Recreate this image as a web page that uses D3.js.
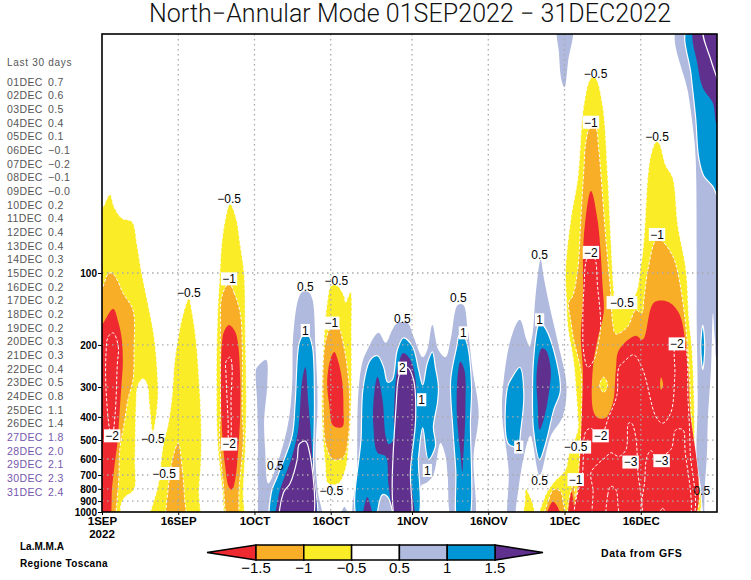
<!DOCTYPE html>
<html>
<head>
<meta charset="utf-8">
<style>
  html, body { margin: 0; padding: 0; background: #fff; }
  svg { display: block; }
  text { font-family: "Liberation Sans", sans-serif; }
</style>
</head>
<body>
<div id="chart"></div>
<script src="https://cdn.jsdelivr.net/npm/d3@7"></script>
<script>
// contour outlines: [days since 1 Sep, hPa]
const yellowAreas = [
  [[-1,63],[0.4,52],[1.6,47],[2.4,53],[3.9,59],[5.9,61],[6.9,76],[7.7,97],[8.5,118],[9.1,136],[10.2,181],[10.8,243],[11,339],[10,466],[9.3,355],[8.9,294],[8.1,277],[7.1,294],[6.7,373],[6.5,604],[6.3,806],[4.5,868],[3.7,940],[3.5,1130],[-1,1130]],
  [[17.1,128],[17.7,145],[18.5,190],[19.1,280],[19.5,411],[19.5,604],[19.1,806],[18.7,1130],[9.1,1130],[9.9,940],[11,780],[12,530],[13,430],[13.8,323],[14.2,243],[14.8,196],[15.9,150]],
  [[25.2,51.5],[26.4,59],[27.2,76],[28,102],[28.2,173],[28.4,339],[28.2,548],[27.8,806],[27.6,1130],[24.8,1130],[23.6,780],[22.7,498],[22.5,280],[22.7,157],[23.1,107],[23.8,68]],
  [[45.1,113],[46.3,113],[47.7,126],[47.9,133],[48.9,120],[49.1,186],[49.1,299],[48.9,411],[48.5,530],[47.9,665],[46.5,760],[44.5,760],[43.9,620],[43.3,411],[43.3,280],[43.7,186],[44.3,133]],
  [[83,1130],[83.2,900],[83.4,800],[84.2,860],[85,965],[85.2,1130]],
  [[86.3,1130],[86.9,888],[88.7,760],[91.2,665],[91.8,580],[93.6,453],[93.6,395],[93.2,299],[92.8,237],[91.6,165],[91.4,133],[91.2,97],[92.2,60],[93.6,40],[94.8,19.8],[96.2,15.3],[97.1,15.3],[98.5,19.8],[99.5,39],[100.1,70.7],[100.7,118],[101.1,133],[104.6,126],[106,93],[106.6,72.7],[107.4,39],[108,32],[109,28.3],[109.6,28.6],[110.9,35.4],[112.3,40],[113.3,63],[114.9,97],[115.5,157],[116.1,210],[116.5,339],[116.6,548],[116.6,1130]]
]
const orangeAreas = [
  [[-1,129],[0.2,114],[1.2,101],[2,100],[3,107],[4.1,121],[6.1,143],[6.3,210],[6.1,280],[5.1,339],[4.5,411],[3.5,548],[3.2,780],[1.8,1130],[-1,1130]],
  [[15,515],[15.8,665],[16.2,850],[16.2,1130],[13,1130],[13,806],[14,585]],
  [[25,110],[26,121],[27.2,147],[27.6,203],[27.6,385],[27.8,498],[27,780],[26.4,1130],[25,1130],[23.8,732],[23.1,485],[23.3,385],[23.3,173],[23.6,125]],
  [[45.1,168],[46.5,168],[47.3,190],[48.1,235],[48.7,320],[48.5,480],[47.5,590],[45.5,604],[44.1,530],[43.5,345],[43.7,210],[44.3,182]],
  [[86.9,1130],[87.9,888],[88.9,806],[90.2,820],[90.8,930],[91.4,1130]],
  [[115.9,1130],[115.9,400],[115.3,216],[114.5,143],[113.3,100],[112.3,85],[110,73],[109,73],[107.4,97],[106.6,130],[106.2,147],[105,143],[103.4,168],[101.1,180],[100.5,163],[100.1,122],[99.1,70.7],[98.1,37],[97.7,30],[97.1,24.7],[96,24.7],[95.2,28.4],[94.8,37],[94.2,60],[93.6,97],[92.6,125],[91.8,133],[92.2,157],[92.8,190],[94.2,254],[94.4,299],[94.2,470],[93.6,760],[93.2,888],[92.8,760],[92.2,1130]]
]
const yellowIslands = [
  [[98.7,273],[99.5,294],[98.7,316],[97.9,294]]
]
const redAreas = [
  [[-1,180],[0.4,160],[2.2,141],[3.2,160],[3.9,190],[4.1,238],[3.9,280],[3.5,373],[3,520],[2.6,604],[2,780],[1.2,1130],[-1,1130]],
  [[25,165],[26.2,176],[26.8,200],[27.2,280],[27.2,392],[26.8,548],[26.2,732],[25.6,806],[25,790],[24.2,635],[23.6,453],[23.4,308],[23.6,196],[24,176]],
  [[45.7,214],[46.5,235],[47.3,288],[47.5,373],[47.3,440],[45.5,436],[44.7,355],[44.3,288],[44.9,231]],
  [[87.3,1130],[88.7,906],[89.9,978],[90.2,1130]],
  [[91.8,1130],[92.4,820],[92.8,1130]],
  [[96.2,45.4],[97.5,60],[98.5,114],[98.7,147],[97.5,190],[96.6,247],[96.6,373],[97.5,403],[99.1,403],[100.5,350],[101.1,254],[101.7,210],[105,183],[106.4,190],[108.6,133],[111.3,132],[113.5,147],[114.9,204],[115.5,339],[115.7,1130],[93.2,1130],[93.8,760],[94.4,400],[94.6,254],[94.2,186],[94.6,133],[94.8,70.7]]
]
const orangeIslands = [
  [[110,273],[110.4,294],[110,308],[109.8,294]]
]
// dashed -2 and -3 lines inside the red
const minusLines = [
  [[2.2,178],[3.2,203],[3,243],[2.6,385],[2,480],[1.6,462],[0.8,308],[0.8,215],[1.2,185]],
  [[25.2,225],[25.6,248],[25.4,323],[25.2,522],[25,522],[24.8,411],[24.4,266],[24.4,235]],
  [[95.6,86],[96.8,86],[97.5,114],[98.1,167],[97.5,203],[96.8,231],[95.6,248],[94.8,218],[94.6,167],[94.8,118]],
  [[93.6,1130],[94.6,665],[95.2,460],[96.2,447],[98.1,480],[99.7,400],[101.3,325],[101.7,248],[102.7,235],[104.6,220],[106.4,254],[109,400],[110.3,425],[111.9,385],[112.7,268],[112.9,200],[114.5,200],[115.3,339],[115.7,548],[115.5,1130]],
  [[97.1,1130],[96.6,806],[96.2,685],[97.5,630],[99.1,590],[100.1,565],[101.7,585],[103.1,548],[103.6,425],[104.2,425],[105,485],[105.4,665],[105.6,1130]],
  [[106.6,1130],[106.8,732],[107.2,590],[108,553],[109,590],[111.9,548],[112.9,453],[114.3,453],[114.7,548],[115.1,1130]],
  [[99.5,1130],[99.5,850],[100.1,780],[101.1,806],[101.5,930],[101.5,1130]],
  [[109.2,1130],[110.3,965],[111.5,1130]]
]
const lavenderAreas = [
  [[31.7,1130],[30.7,780],[30.7,498],[30.5,339],[30.3,254],[30.7,245],[32.3,231],[32.5,294],[31.9,411],[32.1,548],[32.7,760],[33.7,700],[36.5,440],[37.4,299],[37.6,186],[38.6,129],[39.4,120],[40.6,120],[41.4,129],[42,203],[42.4,349],[42,585],[42.4,806],[43,1130]],
  [[46.7,1130],[47.7,950],[48.7,1130]],
  [[50,1130],[50.2,665],[50.4,328],[51.2,238],[52.2,210],[54.4,178],[55.8,196],[57.1,173],[58.1,162],[60.1,162],[61.3,185],[63.1,225],[64,210],[65,165],[66.2,210],[67.6,225],[68.6,190],[70,136],[71.1,136],[71.9,168],[72.9,254],[74.1,385],[73.1,585],[72.9,1130],[69.2,1130],[68,700],[67.6,585],[66.6,515],[65.2,700],[64,750],[62.7,780],[61.9,1130]],
  [[80,1130],[80,665],[78.8,411],[78.8,318],[80.4,190],[82.2,157],[83.5,190],[84.1,203],[84.7,181],[85.3,125],[86.3,88],[86.9,104],[87.9,133],[89.7,196],[91.4,299],[90.6,400],[88.3,480],[86.1,700],[84.3,480],[83,585],[81.4,978],[81,1130]],
  [[89.7,9.6],[92.6,9.6],[92.6,10.4],[91.8,12.6],[91,16.7],[90.4,15.6],[89.9,11.9]],
  [[113.1,9.6],[115.3,17.5],[116.3,25],[116.8,33],[117,112],[117,157],[117.2,349],[117,585],[117.8,780],[118.4,1050],[118.6,780],[119,585],[119.2,411],[119.8,254],[120,190],[120.2,147],[120.6,190],[121,231],[122.5,203],[122.5,9.6]]
]
const blueAreas = [
  [[39.6,182],[40.6,182],[41.4,203],[41.8,349],[41.6,665],[41.8,1130],[33.5,1130],[33.3,830],[34.5,710],[37.4,480],[38,349],[38.8,196]],
  [[50.8,1130],[51,480],[51.4,299],[52.8,231],[54.2,222],[55.4,247],[56.2,286],[57.1,280],[58.1,210],[59.3,187],[61.1,203],[62.3,254],[63.1,294],[64,238],[65,214],[65.6,248],[66.2,299],[66,349],[65.2,440],[65.6,530],[64.2,604],[63.1,445],[62.3,585],[61.5,1130]],
  [[70.3,182],[71.1,182],[71.9,200],[72.7,299],[72.5,411],[71.9,1130],[70.1,1130],[69.6,665],[69,440],[68.6,280],[69.8,203]],
  [[82.2,248],[83,320],[82.4,453],[81.8,530],[80,520],[79.8,299],[80.8,271]],
  [[86.1,160],[87.7,178],[90.2,308],[88.9,373],[87.3,515],[86.1,604],[84.9,453],[84.7,308],[84.9,231],[85.7,168]],
  [[118.2,165],[118.6,203],[118.2,254],[117.8,203]],
  [[115.1,9.6],[115.9,14.8],[116.8,22.4],[117.4,33],[118.4,39.3],[120.2,43.5],[121,47.3],[122.5,52],[122.5,9.6]]
]
const purpleAreas = [
  [[40,248],[40.6,349],[41.4,604],[41.4,1130],[34.5,1130],[34.7,865],[37.4,585],[38.6,453],[39.4,280]],
  [[54.2,272],[55.2,339],[55.8,480],[56.4,520],[57.4,498],[57.4,411],[58.1,254],[59.3,216],[60.7,231],[61.7,280],[61.7,385],[60.7,665],[61.1,1130],[58.1,1130],[56.4,780],[55.8,585],[54.2,565],[53.4,440],[53.4,349]],
  [[51.4,1130],[52.2,865],[53.2,1130]],
  [[70.5,235],[71.3,254],[71.5,373],[71.1,585],[70.9,680],[70.5,565],[69.8,385],[70,266]],
  [[86.5,207],[87.3,210],[88.3,254],[87.9,320],[86.9,411],[86.1,453],[85.7,349],[85.5,266]],
  [[116.5,9.6],[117.2,13.5],[118.2,16.8],[120.2,19.5],[121,24],[122.5,25.2],[122.5,9.6]]
]
const lavenderHoles = [
  [[54.4,1130],[55.2,846],[56.2,865],[57.1,1130]]
]
// solid +2 lines
const plusLines = [
  [[35.3,1130],[35.7,830],[37,760],[38.4,604],[38.8,520],[40,505],[40.6,535],[41,1130]],
  [[58.1,1130],[57.9,349],[58.7,260],[60.1,248],[61.3,280],[61.7,411],[60.7,665],[60.5,1130]],
  [[118.4,9.6],[119.8,12.85],[121,15.3],[122.5,18.9],[122.5,9.6]]
]

// contour labels: text, day, hPa, white box or not
const contourLabels = [
  ['−0.5',25,49,0],['−0.5',17.1,121,0],['−1',25,105.8,1],['−2',2,480,1],['−0.5',10,493,0],['−0.5',12.2,690,1],
  ['−2',25,520,1],['0.5',40,114,0],['1',40,174,1],['−0.5',46.1,108,0],['−1',45.1,162,1],['−0.5',45.1,815,0],
  ['0.5',34.1,640,0],['0.5',59.1,155,0],['2',59.1,250,1],['1',62.9,339,1],['1',64,670,1],['0.5',70.1,127,0],
  ['1',71.1,178,1],['0.5',86.1,84,0],['1',86.1,157,1],['1',82,535,1],['0.5',86.1,740,0],['−0.5',97.1,14.6,0],
  ['−1',96.2,23.4,1],['−2',96.2,82,1],['−0.5',102.3,133,1],['−0.5',109.2,27,0],['−1',109.2,69,1],['−2',113.1,198,1],
  ['−2',98.1,480,1],['−3',104,618,1],['−3',110.1,610,1],['−0.5',93.2,535,1],['−1',93.2,732,1],['0.5',118,815,0]
]

const pressureTicks = [100,200,300,400,500,600,700,800,900,1000]
const dayTicks = [0,15,30,45,61,76,91,106]
const dayTickLabels = ['1SEP','16SEP','1OCT','16OCT','1NOV','16NOV','1DEC','16DEC']

const lastDays = ['01DEC','02DEC','03DEC','04DEC','05DEC','06DEC','07DEC','08DEC','09DEC','10DEC','11DEC','12DEC','13DEC','14DEC','15DEC','16DEC','17DEC','18DEC','19DEC','20DEC','21DEC','22DEC','23DEC','24DEC','25DEC','26DEC','27DEC','28DEC','29DEC','30DEC','31DEC']
const lastValues = ['0.7','0.6','0.5','0.4','0.1','−0.1','−0.2','−0.1','−0.0','0.2','0.4','0.4','0.4','0.3','0.2','0.2','0.2','0.2','0.2','0.3','0.3','0.4','0.5','0.8','1.1','1.4','1.8','2.0','2.1','2.3','2.4']

const legendLabels = ['−1.5','−1','−0.5','0.5','1','1.5']
const RED = '#ee2a30', ORANGE = '#f8ae27', YELLOW = '#fbec28', LAVENDER = '#b0b9de', BLUE = '#0096d6', PURPLE = '#60308f'
const legendColors = [ORANGE, YELLOW, '#fff', LAVENDER, BLUE]

const width = 751, height = 580
const plotLeft = 102, plotRight = 717, plotTop = 34, plotBottom = 512

const svg = d3.select('#chart').append('svg').attr('width', width).attr('height', height)

const x = d3.scaleLinear().domain([0, 121]).range([plotLeft, plotRight])
const y = d3.scaleLog().domain([10, 1000]).range([plotTop, plotBottom])

svg.append('defs').append('clipPath').attr('id', 'plot')
  .append('rect').attr('x', plotLeft).attr('y', plotTop).attr('width', plotRight - plotLeft).attr('height', plotBottom - plotTop)

const outline = d3.line().x(d => x(d[0])).y(d => y(d[1])).curve(d3.curveCatmullRomClosed.alpha(0.5))
const plot = svg.append('g').attr('clip-path', 'url(#plot)')

// draw one set of closed contours
function drawAreas(list, fill, stroke, dash, lineWidth) {
  plot.append('g').selectAll('path').data(list).join('path')
    .attr('d', outline)
    .attr('fill', fill)
    .attr('stroke', stroke)
    .attr('stroke-width', lineWidth)
    .attr('stroke-dasharray', dash)
}

drawAreas(yellowAreas, YELLOW, '#fff', '3 2', 1)
drawAreas(orangeAreas, ORANGE, '#fff', '3 2', 1)
drawAreas(yellowIslands, YELLOW, '#fff', '3 2', 1)
drawAreas(redAreas, RED, 'none', null, 0)
drawAreas(orangeIslands, ORANGE, 'none', null, 0)
drawAreas(minusLines, 'none', '#fff', '3 2', 1)
drawAreas(lavenderAreas, LAVENDER, 'none', null, 0)
drawAreas(blueAreas, BLUE, '#fff', null, 1.2)
drawAreas(purpleAreas, PURPLE, 'none', null, 0)
drawAreas(lavenderHoles, LAVENDER, '#fff', null, 1.2)
drawAreas(plusLines, 'none', '#fff', null, 1.2)

// dotted grid
const grid = svg.append('g').attr('stroke', '#aaa').attr('stroke-width', 1.3).attr('stroke-dasharray', '1.5 3.5')
grid.selectAll('.gx').data(dayTicks.slice(1)).join('line')
  .attr('class', 'gx')
  .attr('x1', d => x(d)).attr('x2', d => x(d))
  .attr('y1', plotTop).attr('y2', plotBottom)
grid.selectAll('.gy').data(pressureTicks.slice(0, -1)).join('line')
  .attr('class', 'gy')
  .attr('x1', plotLeft).attr('x2', plotRight)
  .attr('y1', d => y(d)).attr('y2', d => y(d))

// contour labels
const labelGroup = svg.append('g').selectAll('g').data(contourLabels).join('g')
  .attr('transform', d => `translate(${x(d[1])},${y(d[2])})`)
labelGroup.append('rect')
  .attr('x', d => -d[0].length * 3.6 - 1)
  .attr('y', -6.5)
  .attr('width', d => d[0].length * 7.2 + 2)
  .attr('height', 13)
  .attr('fill', d => d[3] ? '#fff' : 'none')
labelGroup.append('text')
  .attr('text-anchor', 'middle')
  .attr('dy', '0.36em')
  .attr('font-size', 12)
  .attr('fill', '#000')
  .text(d => d[0])

// axes
const xAxis = d3.axisBottom(x).tickValues(dayTicks).tickFormat((d, i) => dayTickLabels[i]).tickSize(3).tickPadding(2)
const yAxis = d3.axisLeft(y).tickValues(pressureTicks).tickFormat(d3.format('d')).tickSize(4).tickPadding(1)
const gx = svg.append('g').attr('transform', `translate(0,${plotBottom})`).call(xAxis)
const gy = svg.append('g').attr('transform', `translate(${plotLeft},0)`).call(yAxis)
gx.select('.domain').remove()
gy.select('.domain').remove()
gx.selectAll('text').attr('font-family', '"Liberation Sans"').attr('font-size', 11.5).attr('font-weight', 'bold').attr('fill', '#000')
gy.selectAll('text').attr('font-family', '"Liberation Sans"').attr('font-size', 10).attr('font-weight', 'bold').attr('fill', '#000')
svg.append('text').attr('x', x(0)).attr('y', 538).attr('text-anchor', 'middle')
  .attr('font-size', 11.5).attr('font-weight', 'bold').text('2022')

// frame
svg.append('rect').attr('x', plotLeft).attr('y', plotTop).attr('width', plotRight - plotLeft).attr('height', plotBottom - plotTop)
  .attr('fill', 'none').attr('stroke', '#000').attr('stroke-width', 1.6)

// title
svg.append('text').attr('x', 410).attr('y', 22).attr('text-anchor', 'middle')
  .attr('font-size', 25).style('font-family', 'Roboto').attr('font-weight', 300)
  .attr('textLength', 522).attr('fill', '#111')
  .text('North−Annular Mode 01SEP2022 − 31DEC2022')

// left list of the last 30 days
const listY = d3.scalePoint().domain(lastDays).range([82, 492])
const listColor = i => i >= 26 ? '#7557ad' : '#555'
svg.append('text').attr('x', 7).attr('y', 65.5).attr('font-size', 10).attr('letter-spacing', 0.7).attr('fill', '#555').text('Last 30 days')
const rows = svg.append('g').selectAll('g').data(lastDays).join('g')
  .attr('transform', d => `translate(7,${listY(d)})`)
rows.append('text').attr('dy', '0.36em').attr('font-size', 10.5).attr('letter-spacing', 0.4)
  .attr('fill', (d, i) => listColor(i)).text(d => d)
rows.append('text').attr('x', 41).attr('dy', '0.36em').attr('font-size', 10.5).attr('letter-spacing', 0.4)
  .attr('fill', (d, i) => listColor(i)).text((d, i) => lastValues[i])

// colour bar
const legendX = d3.scalePoint().domain(legendLabels).range([256, 495])
const barTop = 545, barBottom = 560, barMid = (barTop + barBottom) / 2
const legend = svg.append('g').attr('stroke', '#000').attr('stroke-width', 1.5)
legend.append('path').attr('fill', RED)
  .attr('d', d3.line()([[207, barMid], [legendX('−1.5'), barTop], [legendX('−1.5'), barBottom]]) + 'Z')
legend.append('path').attr('fill', PURPLE)
  .attr('d', d3.line()([[legendX('1.5'), barTop], [543, barMid], [legendX('1.5'), barBottom]]) + 'Z')
legend.selectAll('rect').data(legendColors).join('rect')
  .attr('x', (d, i) => legendX(legendLabels[i]))
  .attr('y', barTop)
  .attr('width', legendX.step())
  .attr('height', barBottom - barTop)
  .attr('fill', d => d)
svg.append('g').selectAll('text').data(legendLabels).join('text')
  .attr('x', d => legendX(d))
  .attr('y', 573)
  .attr('text-anchor', 'middle')
  .attr('font-size', 15)
  .text(d => d)

// credits
svg.append('text').attr('x', 20).attr('y', 550).attr('font-size', 10).attr('font-weight', 'bold').text('La.M.M.A')
svg.append('text').attr('x', 20).attr('y', 567).attr('font-size', 10).attr('font-weight', 'bold').attr('letter-spacing', 0.4).text('Regione Toscana')
svg.append('text').attr('x', 601).attr('y', 557).attr('font-size', 10.5).attr('font-weight', 'bold').attr('letter-spacing', 0.6).text('Data from GFS')
</script>
</body>
</html>
